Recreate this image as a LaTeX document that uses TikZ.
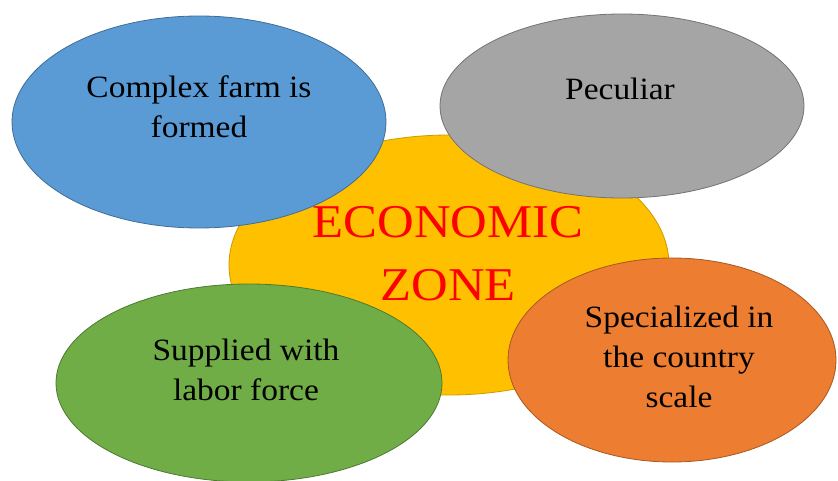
\documentclass[tikz,border=0pt]{standalone}
\usepackage{fontspec}
\setmainfont[FakeStretch=1.08]{Liberation Serif}
\usetikzlibrary{shapes.geometric}
\definecolor{cblue}{HTML}{5B9BD5}
\definecolor{cgray}{HTML}{A5A5A5}
\definecolor{cyellow}{HTML}{FFC000}
\definecolor{cgreen}{HTML}{70AD47}
\definecolor{corange}{HTML}{ED7D31}
\tikzset{
  blob/.style={ellipse, inner sep=0pt, line width=0.8pt},
  lbl/.style={anchor=base, align=center, font=\fontsize{31}{40}\selectfont, text=black, inner sep=0pt},
  big/.style={anchor=base, align=center, font=\fontsize{47}{63}\selectfont, text=red, inner sep=0pt}
}
\begin{document}
\begin{tikzpicture}[x=1pt,y=-1pt]
\useasboundingbox (0,0) rectangle (838,481);
\node[blob, fill=cyellow, draw=cyellow!80!black, minimum width=440pt, minimum height=260pt] (zone) at (449,265) {};
\node[blob, fill=cblue, draw=cblue!70!black, minimum width=374pt, minimum height=212pt] (farm) at (199,122) {};
\node[blob, fill=cgray, draw=cgray!70!black, minimum width=364pt, minimum height=184pt] (pec) at (622,106) {};
\node[blob, fill=cgreen, draw=cgreen!70!black, minimum width=386pt, minimum height=198pt] (sup) at (249,383) {};
\node[blob, fill=corange, draw=corange!70!black, minimum width=328pt, minimum height=204pt] (spec) at (672,360) {};
\node[big] (tzone) at (448,300) {ECONOMIC\\ZONE};
\node[lbl] (tfarm) at (199,138) {Complex farm is\\formed};
\node[lbl] (tpec) at (620,100) {Peculiar};
\node[lbl] (tsup) at (246,400) {Supplied with\\labor force};
\node[lbl] (tspec) at (679,407) {Specialized in\\the country\\scale};
\end{tikzpicture}
\end{document}
